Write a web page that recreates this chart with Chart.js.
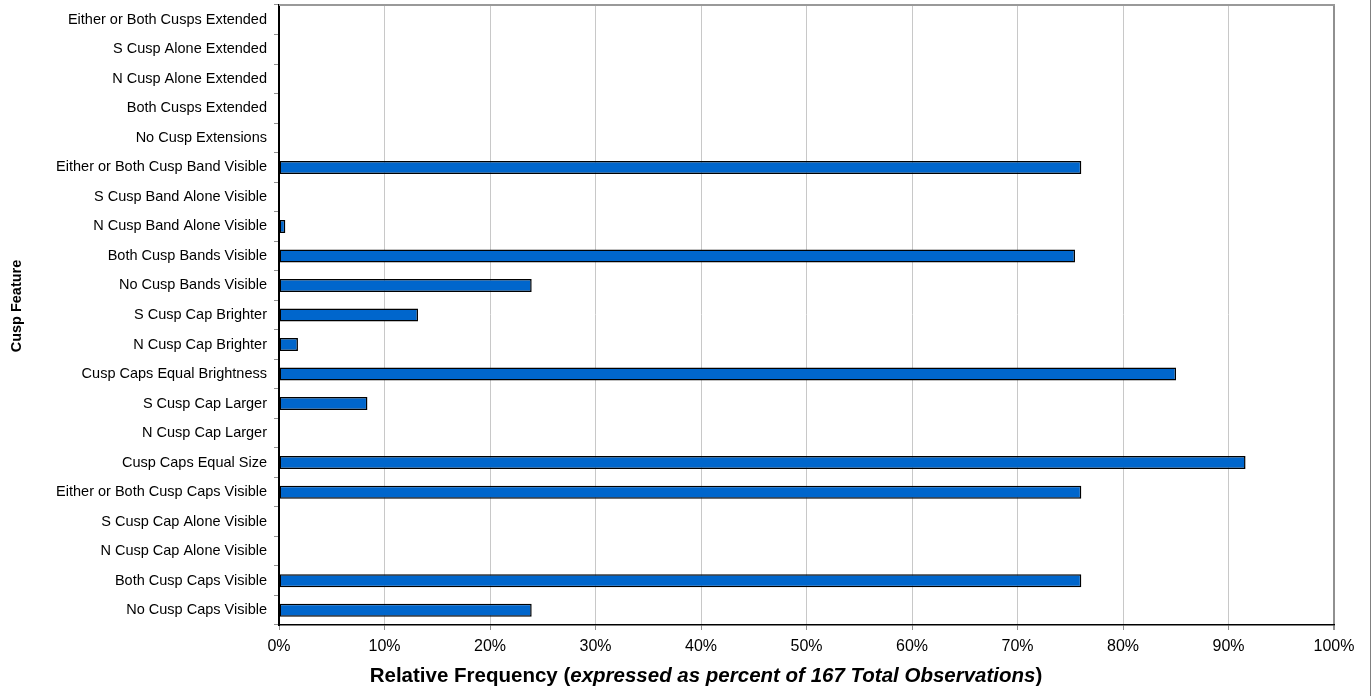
<!DOCTYPE html>
<html>
<head>
<meta charset="utf-8">
<script src="https://cdn.jsdelivr.net/npm/chart.js@4/dist/chart.umd.min.js"></script>
<style>
  html, body { margin: 0; padding: 0; background: #ffffff; }
  #wrap { width: 1371px; height: 696px; position: relative; }
</style>
</head>
<body>
<div id="wrap"><canvas id="chart" width="1371" height="696"></canvas></div>
<script>
// Cusp features, listed top to bottom
const features = [
  "Either or Both Cusps Extended",
  "S Cusp Alone Extended",
  "N Cusp Alone Extended",
  "Both Cusps Extended",
  "No Cusp Extensions",
  "Either or Both Cusp Band Visible",
  "S Cusp Band Alone Visible",
  "N Cusp Band Alone Visible",
  "Both Cusp Bands Visible",
  "No Cusp Bands Visible",
  "S Cusp Cap Brighter",
  "N Cusp Cap Brighter",
  "Cusp Caps Equal Brightness",
  "S Cusp Cap Larger",
  "N Cusp Cap Larger",
  "Cusp Caps Equal Size",
  "Either or Both Cusp Caps Visible",
  "S Cusp Cap Alone Visible",
  "N Cusp Cap Alone Visible",
  "Both Cusp Caps Visible",
  "No Cusp Caps Visible"
];

// Number of observations reporting each feature
const counts = [0, 0, 0, 0, 0, 127, 0, 1, 126, 40, 22, 3, 142, 14, 0, 153, 127, 0, 0, 127, 40];
const totalObservations = 167;

// Relative frequency in percent
const percents = counts.map(c => c / totalObservations * 100);

const xTicks = [0, 10, 20, 30, 40, 50, 60, 70, 80, 90, 100];

const FONT = "'Liberation Sans', Arial, Helvetica, sans-serif";

// Axis titles and frame lines
const decorations = {
  id: 'decorations',
  afterDraw(chart) {
    const { ctx, chartArea } = chart;
    ctx.save();
    // top frame
    ctx.strokeStyle = '#999999';
    ctx.lineWidth = 2;
    ctx.beginPath();
    ctx.moveTo(chartArea.left, chartArea.top);
    ctx.lineTo(chartArea.right + 1, chartArea.top);
    ctx.stroke();
    // outer border at right edge
    ctx.strokeStyle = '#808080';
    ctx.lineWidth = 1;
    ctx.beginPath();
    ctx.moveTo(1370.5, 0);
    ctx.lineTo(1370.5, 696);
    ctx.stroke();

    // y axis title
    ctx.fillStyle = '#000';
    ctx.font = 'bold 14.5px ' + FONT;
    ctx.textAlign = 'center';
    ctx.textBaseline = 'middle';
    ctx.translate(17, 306);
    ctx.rotate(-Math.PI / 2);
    ctx.fillText('Cusp Feature', 0, 0);
    ctx.setTransform(1, 0, 0, 1, 0, 0);

    // x axis title with italic part
    const parts = [
      { t: 'Relative Frequency (', f: 'bold 20.5px ' + FONT },
      { t: 'expressed as percent of ' + totalObservations + ' Total Observations', f: 'italic bold 20.5px ' + FONT },
      { t: ')', f: 'bold 20.5px ' + FONT }
    ];
    let w = 0;
    parts.forEach(p => { ctx.font = p.f; p.w = ctx.measureText(p.t).width; w += p.w; });
    let x = 706 - w / 2;
    ctx.textAlign = 'left';
    ctx.textBaseline = 'middle';
    parts.forEach(p => { ctx.font = p.f; ctx.fillText(p.t, x, 676); x += p.w; });
    ctx.restore();
  }
};

new Chart(document.getElementById('chart'), {
  type: 'bar',
  data: {
    labels: features,
    datasets: [{
      data: percents,
      backgroundColor: '#0066cc',
      borderColor: '#000000',
      borderWidth: 1.5,
      borderSkipped: false,
      barPercentage: 0.44,
      categoryPercentage: 1
    }]
  },
  options: {
    indexAxis: 'y',
    responsive: false,
    animation: false,
    layout: { padding: { top: 5, right: 37, left: 0, bottom: 0 } },
    plugins: {
      legend: { display: false },
      tooltip: { enabled: false },
      title: { display: false }
    },
    scales: {
      x: {
        min: 0,
        max: 100,
        afterBuildTicks(scale) { scale.ticks = xTicks.map(v => ({ value: v })); },
        afterFit(scale) {
          scale.height = 71;
          scale.paddingLeft = 0;
          scale.paddingRight = 0;
        },
        ticks: {
          callback: v => v + '%',
          color: '#000',
          font: { family: FONT, size: 16 },
          padding: 7,
          maxRotation: 0
        },
        grid: {
          color: ctx => ctx.index === 10 ? '#909090' : '#c8c8c8',
          lineWidth: ctx => ctx.index === 10 ? 2 : 1,
          tickColor: '#909090',
          tickLength: 5
        },
        border: { display: true, color: '#000', width: 1.5 }
      },
      y: {
        afterFit(scale) {
          scale.width = 279;
          scale.paddingTop = 0;
          scale.paddingBottom = 0;
        },
        ticks: {
          color: '#000',
          font: { family: FONT, size: 14.5 },
          padding: 7,
          autoSkip: false
        },
        grid: {
          offset: true,
          drawOnChartArea: false,
          tickLength: 5,
          tickColor: '#909090'
        },
        border: { display: true, color: '#000', width: 2 }
      }
    }
  },
  plugins: [decorations]
});
</script>
</body>
</html>
